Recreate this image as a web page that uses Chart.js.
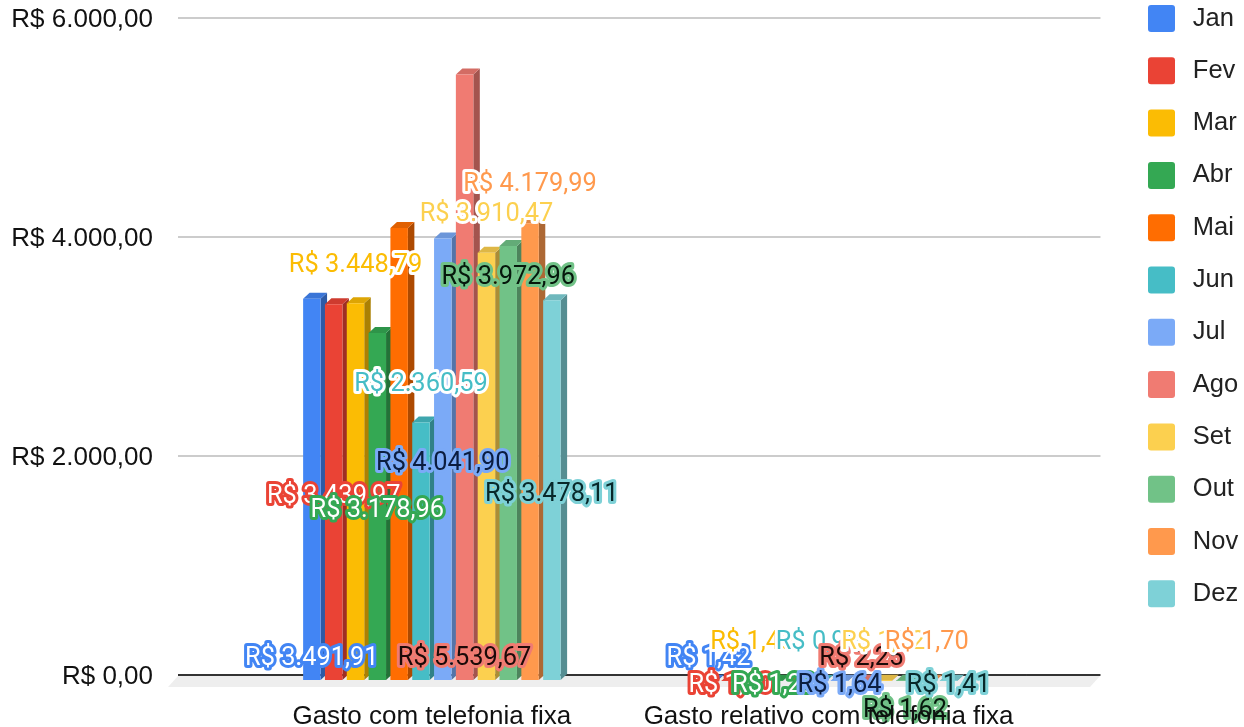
<!DOCTYPE html>
<html>
<head>
<meta charset="utf-8">
<style>
  html, body { margin: 0; background: #fff; }
  canvas { display: block; }
</style>
<script src="https://cdn.jsdelivr.net/npm/chart.js@4"></script>
</head>
<body>
<canvas id="chart" width="1244" height="727"></canvas>
<script>
var categories = ['Gasto com telefonia fixa', 'Gasto relativo com telefonia fixa'];
var months = ['Jan', 'Fev', 'Mar', 'Abr', 'Mai', 'Jun', 'Jul', 'Ago', 'Set', 'Out', 'Nov', 'Dez'];
var gastoFixa = [3491.91, 3439.97, 3448.79, 3178.96, 4137, 2360.59, 4041.90, 5539.67, 3910.47, 3972.96, 4179.99, 3478.11];
var gastoRelativo = [1.42, 1.40, 1.43, 1.29, 1.80, 0.96, 1.64, 2.25, 1.52, 1.62, 1.70, 1.41];
var yTicks = [0, 2000, 4000, 6000];

var colors = ['#4285f4', '#ea4335', '#fbbc04', '#34a853', '#ff6d01', '#46bdc6', '#7baaf7', '#f07b72', '#fcd04f', '#71c287', '#ff994d', '#7ed1d7'];
var labelFill = ['#ffffff', '#ffffff', '#fbbc04', '#ffffff', null, '#46bdc6', '#0b1d40', '#1c0a08', '#fcd04f', '#06180c', '#ff994d', '#08282a'];
var labelHalo = ['#4285f4', '#ea4335', '#ffffff', '#34a853', null, '#ffffff', '#7baaf7', '#f07b72', '#ffffff', '#71c287', '#ffffff', '#7ed1d7'];
// where the labels sit, in axis units (null = the reference shows no label)
var labelAt = [
  [173, 1653, 3762, 1525, null, 2676, 1954, 173, 4228, 3653, 4502, 1671],
  [173, -73, 320, -73, null, 320, -73, 173, 320, -301, 320, -73]
];
var depthX = 6.5, depthY = 6;

function brl(v) {
  return 'R$ ' + v.toLocaleString('pt-BR', {minimumFractionDigits: 2, maximumFractionDigits: 2});
}
function shade(hex, k) {
  var n = parseInt(hex.slice(1), 16);
  return 'rgb(' + Math.round((n >> 16) * k) + ',' + Math.round(((n >> 8) & 255) * k) + ',' + Math.round((n & 255) * k) + ')';
}

var bars3d = {
  id: 'bars3d',
  afterLayout: function(chart) {
    // box column of the legend sits above the chart's own layout slot
    var legend = chart.legend, pad = legend.options.labels.padding;
    legend.left = 1148 - pad;
    legend.right = chart.width;
    legend.top = 5 - pad;
  },
  beforeDatasetsDraw: function(chart) {
    var ctx = chart.ctx, y0 = chart.scales.y.getPixelForValue(0);
    ctx.save();
    // floor
    ctx.fillStyle = '#eeeeee';
    ctx.beginPath();
    ctx.moveTo(178, y0 + 1);
    ctx.lineTo(1100, y0 + 1);
    ctx.lineTo(1090, y0 + 12);
    ctx.lineTo(168, y0 + 12);
    ctx.closePath();
    ctx.fill();
    // side and top faces, the front faces come from the library on top
    chart.data.datasets.forEach(function(ds, i) {
      chart.getDatasetMeta(i).data.forEach(function(bar) {
        var p = bar.getProps(['x', 'y', 'base', 'width']);
        var right = p.x + p.width / 2, left = p.x - p.width / 2;
        ctx.fillStyle = shade(colors[i], 0.68);
        ctx.beginPath();
        ctx.moveTo(right, p.y + depthY);
        ctx.lineTo(right + depthX, p.y);
        ctx.lineTo(right + depthX, p.base);
        ctx.lineTo(right, p.base + depthY);
        ctx.closePath();
        ctx.fill();
        ctx.fillStyle = shade(colors[i], 0.88);
        ctx.beginPath();
        ctx.moveTo(left, p.y + depthY);
        ctx.lineTo(right, p.y + depthY);
        ctx.lineTo(right + depthX, p.y);
        ctx.lineTo(left + depthX, p.y);
        ctx.closePath();
        ctx.fill();
      });
    });
    ctx.restore();
  },
  beforeDatasetDraw: function(chart) {
    chart.ctx.save();
    chart.ctx.translate(0, depthY);
  },
  afterDatasetDraw: function(chart) {
    chart.ctx.restore();
  },
  afterDatasetsDraw: function(chart) {
    var ctx = chart.ctx, yScale = chart.scales.y;
    ctx.save();
    ctx.font = '25.4px Roboto';
    ctx.textAlign = 'center';
    ctx.textBaseline = 'middle';
    ctx.lineJoin = 'round';
    ctx.lineWidth = 6;
    chart.data.datasets.forEach(function(ds, i) {
      if (!labelFill[i]) return;
      chart.getDatasetMeta(i).data.forEach(function(bar, c) {
        var y = yScale.getPixelForValue(labelAt[c][i]) + 3;
        ctx.strokeStyle = labelHalo[i];
        ctx.strokeText(brl(ds.data[c]), bar.x, y);
        ctx.fillStyle = labelFill[i];
        ctx.fillText(brl(ds.data[c]), bar.x, y);
      });
    });
    ctx.restore();
  }
};

function gridColor(c) {
  return c.tick && c.tick.value === 0 ? '#333333' : '#cccccc';
}

new Chart(document.getElementById('chart'), {
  type: 'bar',
  plugins: [bars3d],
  data: {
    labels: categories,
    datasets: months.map(function(m, i) {
      return {
        label: m,
        data: [gastoFixa[i], gastoRelativo[i]],
        backgroundColor: colors[i],
        borderWidth: 0,
        inflateAmount: 0,
        clip: false,
        categoryPercentage: 0.66,
        barPercentage: 0.8
      };
    })
  },
  options: {
    responsive: false,
    animation: false,
    layout: {padding: {top: 18, right: 18, bottom: 0, left: 0}},
    plugins: {
      tooltip: {enabled: false},
      legend: {
        position: 'right',
        align: 'start',
        labels: {
          boxWidth: 27,
          boxHeight: 27,
          padding: 25.3,
          useBorderRadius: true,
          borderRadius: 3,
          color: '#222222',
          font: {family: '"Liberation Sans"', size: 25.5},
          generateLabels: function(chart) {
            return Chart.defaults.plugins.legend.labels.generateLabels(chart).map(function(l) {
              l.text = '\u2009' + l.text;
              return l;
            });
          }
        }
      }
    },
    scales: {
      x: {
        grid: {display: false},
        border: {display: false},
        afterFit: function(s) { s.height = 52; },
        ticks: {
          z: 1,
          padding: 18,
          maxRotation: 0,
          autoSkip: false,
          color: '#111111',
          font: {family: '"Liberation Sans"', size: 26}
        }
      },
      y: {
        min: 0,
        max: 6000,
        afterBuildTicks: function(s) { s.ticks = yTicks.map(function(v) { return {value: v}; }); },
        afterFit: function(s) { s.width = 233.5; s.paddingTop = 0; s.paddingBottom = 0; },
        border: {display: false},
        grid: {color: gridColor, tickColor: gridColor, lineWidth: 2, tickLength: 55.5},
        ticks: {
          padding: 25,
          labelOffset: 2,
          color: '#111111',
          font: {family: '"Liberation Sans"', size: 26},
          callback: brl
        }
      },
      yRight: {
        position: 'right',
        min: 0,
        max: 6000,
        afterBuildTicks: function(s) { s.ticks = yTicks.map(function(v) { return {value: v}; }); },
        afterFit: function(s) { s.width = 73.5; },
        border: {display: false},
        grid: {color: gridColor, tickColor: gridColor, lineWidth: 2, tickLength: 73.5, drawOnChartArea: false},
        ticks: {display: false}
      }
    }
  }
});
</script>
</body>
</html>
